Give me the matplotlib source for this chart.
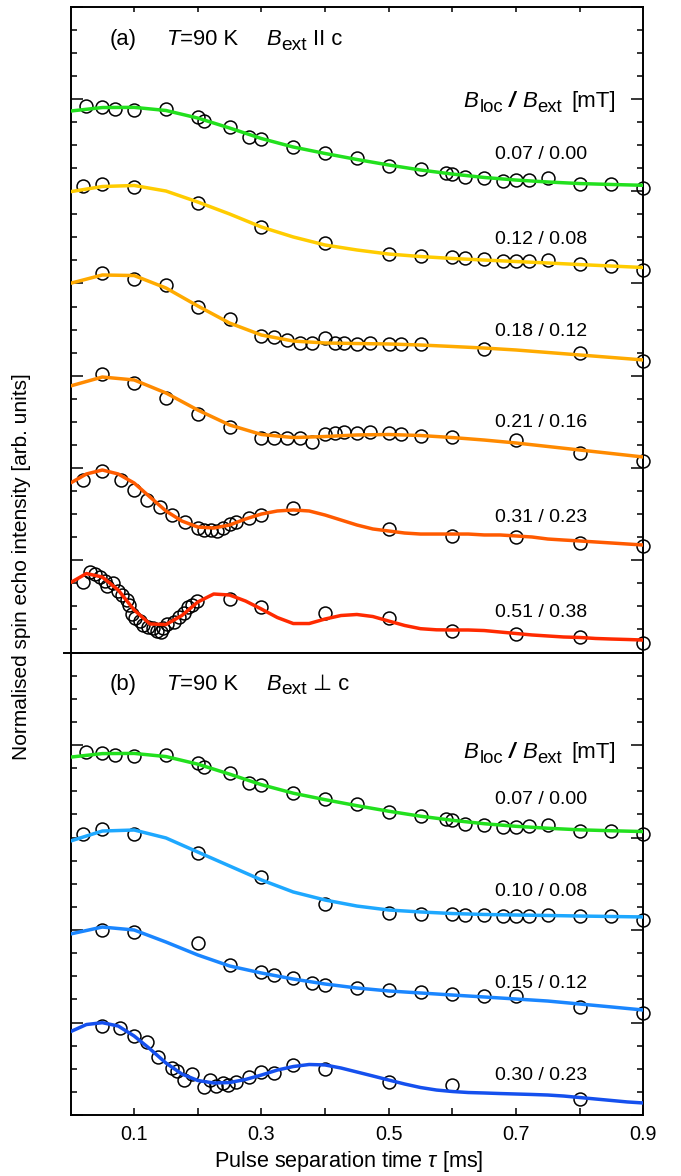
import numpy as np
import matplotlib
matplotlib.use("Agg")
import matplotlib.pyplot as plt
from matplotlib.lines import Line2D
from matplotlib.ticker import MultipleLocator, FixedLocator, NullFormatter

plt.rcParams['font.family'] = ['Liberation Sans', 'DejaVu Sans']
plt.rcParams['mathtext.fontset'] = 'custom'
plt.rcParams['mathtext.rm'] = 'Liberation Sans'
plt.rcParams['mathtext.it'] = 'Liberation Sans:italic'

# ---------------- data (vertically offset, arb. units) ----------------
fit_tau_c = np.round(np.arange(0, 0.9001, 0.05), 3)     # smooth fits
fit_tau_f = np.round(np.arange(0, 0.9001, 0.025), 3)    # oscillating fits

# (a) B_ext || c
tau_g = [0.025, 0.05, 0.07, 0.10, 0.15, 0.20, 0.21, 0.25, 0.28, 0.30, 0.35, 0.40, 0.45,
         0.50, 0.55, 0.59, 0.60, 0.62, 0.65, 0.68, 0.70, 0.72, 0.75, 0.80, 0.85, 0.90]
y_g = [5.924, 5.916, 5.891, 5.880, 5.888, 5.801, 5.764, 5.696, 5.591, 5.563, 5.482, 5.411, 5.357,
       5.273, 5.237, 5.201, 5.186, 5.151, 5.140, 5.111, 5.118, 5.121, 5.140, 5.075, 5.075, 5.038]
fit_g = [5.869, 5.907, 5.909, 5.875, 5.793, 5.685, 5.571, 5.479, 5.409, 5.344, 5.284, 5.230,
         5.186, 5.149, 5.121, 5.100, 5.083, 5.073, 5.064]
green_shift_b = -2.0   # same 0.07/0.00 data set shown again in panel (b)

tau_y = [0.02, 0.05, 0.10, 0.20, 0.30, 0.40, 0.50, 0.55, 0.60, 0.62, 0.65, 0.68, 0.70, 0.72,
         0.75, 0.80, 0.85, 0.90]
y_y = [5.056, 5.078, 5.042, 4.869, 4.609, 4.442, 4.319, 4.298, 4.287, 4.276, 4.265, 4.243,
       4.243, 4.243, 4.254, 4.211, 4.189, 4.146]
fit_y = [4.995, 5.051, 5.062, 5.002, 4.883, 4.753, 4.612, 4.504, 4.417, 4.363, 4.319, 4.292,
         4.271, 4.254, 4.238, 4.222, 4.205, 4.189, 4.173]

tau_yo = [0.05, 0.10, 0.15, 0.20, 0.25, 0.30, 0.32, 0.34, 0.36, 0.38, 0.40, 0.415, 0.43, 0.45,
          0.47, 0.50, 0.52, 0.55, 0.65, 0.80, 0.90]
y_yo = [4.110, 4.052, 3.980, 3.748, 3.612, 3.431, 3.423, 3.387, 3.358, 3.358, 3.406, 3.351,
        3.354, 3.344, 3.354, 3.344, 3.344, 3.344, 3.290, 3.246, 3.160]
fit_yo = [4.002, 4.092, 4.086, 3.951, 3.756, 3.571, 3.441, 3.376, 3.355, 3.349, 3.344, 3.333,
          3.317, 3.300, 3.279, 3.252, 3.225, 3.198, 3.171]

tau_o = [0.05, 0.10, 0.15, 0.20, 0.25, 0.30, 0.32, 0.34, 0.36, 0.38, 0.40, 0.415, 0.43, 0.45,
         0.47, 0.50, 0.52, 0.55, 0.60, 0.70, 0.80, 0.90]
y_o = [3.019, 2.918, 2.755, 2.582, 2.447, 2.322, 2.322, 2.322, 2.322, 2.285, 2.368, 2.376,
       2.390, 2.379, 2.390, 2.379, 2.368, 2.347, 2.336, 2.303, 2.162, 2.076]
fit_o = [2.889, 2.986, 2.954, 2.813, 2.628, 2.466, 2.363, 2.330, 2.341, 2.358, 2.363, 2.352,
         2.330, 2.303, 2.271, 2.233, 2.195, 2.157, 2.119]

tau_ro = [0.02, 0.05, 0.08, 0.10, 0.12, 0.14, 0.16, 0.18, 0.20, 0.21, 0.22, 0.23, 0.24, 0.25,
          0.26, 0.28, 0.30, 0.35, 0.50, 0.60, 0.70, 0.80, 0.90]
y_ro = [1.870, 1.967, 1.870, 1.761, 1.653, 1.577, 1.490, 1.414, 1.349, 1.328, 1.328, 1.317,
        1.349, 1.393, 1.414, 1.458, 1.490, 1.566, 1.339, 1.263, 1.252, 1.187, 1.154]
fit_ro = [1.837, 1.935, 1.978, 1.935, 1.837, 1.685, 1.534, 1.425, 1.360, 1.349, 1.382, 1.447,
          1.501, 1.534, 1.545, 1.534, 1.490, 1.436, 1.382, 1.339, 1.317, 1.295, 1.284, 1.284,
          1.284, 1.284, 1.274, 1.274, 1.263, 1.252, 1.230, 1.219, 1.209, 1.198, 1.187, 1.176, 1.165]

tau_r = [0.019, 0.030, 0.039, 0.047, 0.054, 0.058, 0.067, 0.074, 0.081, 0.088, 0.092, 0.096,
         0.101, 0.109, 0.114, 0.121, 0.130, 0.136, 0.142, 0.146, 0.152, 0.162, 0.171, 0.178,
         0.185, 0.191, 0.199, 0.250, 0.300, 0.400, 0.500, 0.600, 0.700, 0.800, 0.900]
y_r = [0.767, 0.876, 0.851, 0.822, 0.778, 0.724, 0.750, 0.670, 0.623, 0.569, 0.515, 0.414,
       0.371, 0.345, 0.298, 0.280, 0.262, 0.236, 0.225, 0.262, 0.309, 0.334, 0.388, 0.425,
       0.496, 0.515, 0.561, 0.577, 0.496, 0.431, 0.377, 0.236, 0.204, 0.165, 0.100]
fit_r = [0.757, 0.856, 0.818, 0.677, 0.461, 0.309, 0.303, 0.401, 0.547, 0.634, 0.623, 0.558,
         0.471, 0.379, 0.314, 0.314, 0.363, 0.401, 0.412, 0.390, 0.341, 0.293, 0.258, 0.246,
         0.244, 0.244, 0.238, 0.222, 0.206, 0.190, 0.179, 0.168, 0.163, 0.152, 0.146, 0.141, 0.135]

# (b) B_ext perpendicular to c
tau_lb = [0.02, 0.05, 0.10, 0.20, 0.30, 0.40, 0.50, 0.55, 0.60, 0.62, 0.65, 0.68, 0.70, 0.72,
          0.75, 0.80, 0.85, 0.90]
y_lb = [3.038, 3.092, 3.038, 2.832, 2.573, 2.281, 2.184, 2.173, 2.173, 2.162, 2.162, 2.151,
        2.151, 2.151, 2.162, 2.151, 2.151, 2.108]
fit_lb = [2.962, 3.070, 3.081, 2.995, 2.843, 2.692, 2.541, 2.411, 2.324, 2.259, 2.216, 2.195,
          2.178, 2.168, 2.162, 2.157, 2.151, 2.146, 2.141]

tau_mb = [0.05, 0.10, 0.20, 0.25, 0.30, 0.32, 0.35, 0.38, 0.40, 0.45, 0.50, 0.55, 0.60, 0.65,
          0.70, 0.80, 0.90]
y_mb = [2.000, 1.978, 1.859, 1.622, 1.546, 1.514, 1.481, 1.427, 1.405, 1.373, 1.351, 1.330,
        1.308, 1.286, 1.286, 1.168, 1.103]
fit_mb = [1.957, 2.032, 2.000, 1.870, 1.730, 1.611, 1.535, 1.470, 1.416, 1.373, 1.341, 1.319,
          1.297, 1.276, 1.254, 1.232, 1.200, 1.168, 1.135]

tau_db = [0.049, 0.078, 0.100, 0.120, 0.138, 0.159, 0.167, 0.179, 0.191, 0.209, 0.219, 0.228,
          0.239, 0.248, 0.260, 0.280, 0.300, 0.319, 0.350, 0.400, 0.500, 0.600, 0.800]
y_db = [0.962, 0.937, 0.857, 0.792, 0.630, 0.511, 0.479, 0.378, 0.443, 0.306, 0.378, 0.314,
        0.343, 0.321, 0.360, 0.408, 0.468, 0.457, 0.541, 0.494, 0.360, 0.324, 0.173]
fit_db = [0.901, 0.978, 0.998, 0.962, 0.854, 0.714, 0.562, 0.443, 0.373, 0.346, 0.351, 0.384,
          0.432, 0.486, 0.524, 0.546, 0.541, 0.508, 0.465, 0.422, 0.378, 0.335, 0.297, 0.270,
          0.254, 0.243, 0.238, 0.232, 0.227, 0.222, 0.216, 0.205, 0.189, 0.173, 0.157, 0.141, 0.130]

labels_a = ['0.07 / 0.00', '0.12 / 0.08', '0.18 / 0.12', '0.21 / 0.16', '0.31 / 0.23', '0.51 / 0.38']
labels_b = ['0.07 / 0.00', '0.10 / 0.08', '0.15 / 0.12', '0.30 / 0.23']
colors_a = ['#22e01e', '#ffcc00', '#ffab00', '#ff8a00', '#ff5a00', '#ff2a00']
colors_b = ['#22e01e', '#1ea8ff', '#1a86ff', '#1550ee']
xticks_lab = [0.1, 0.3, 0.5, 0.7, 0.9]

# ---------------- figure ----------------
W, H = 681, 1176
fig = plt.figure(figsize=(W / 100, H / 100), dpi=100)
L, R = 70.5, 643.3
ax1 = fig.add_axes([L / W, 1 - 652.5 / H, (R - L) / W, (652.5 - 6.7) / H])
ax2 = fig.add_axes([L / W, 1 - 1115 / H, (R - L) / W, (1115 - 652.5) / H])

mk = dict(marker='o', ms=9.3, mfc='none', mec='black', mew=1.1, ls='none', zorder=2)
lw = 2.5

series_a = [
    (tau_g, y_g, fit_tau_c, fit_g),
    (tau_y, y_y, fit_tau_c, fit_y),
    (tau_yo, y_yo, fit_tau_c, fit_yo),
    (tau_o, y_o, fit_tau_c, fit_o),
    (tau_ro, y_ro, fit_tau_f, fit_ro),
    (tau_r, y_r, fit_tau_f, fit_r),
]
for (tp, yp, tf, yf), c in zip(series_a, colors_a):
    ax1.plot(tp, yp, **mk, clip_on=False)
    ax1.plot(tf, yf, color=c, lw=lw, zorder=3, solid_capstyle='butt', solid_joinstyle='round')

series_b = [
    (tau_g, list(np.array(y_g) + green_shift_b), fit_tau_c, list(np.array(fit_g) + green_shift_b)),
    (tau_lb, y_lb, fit_tau_c, fit_lb),
    (tau_mb, y_mb, fit_tau_c, fit_mb),
    (tau_db, y_db, fit_tau_f, fit_db),
]
for (tp, yp, tf, yf), c in zip(series_b, colors_b):
    ax2.plot(tp, yp, **mk, clip_on=False)
    ax2.plot(tf, yf, color=c, lw=lw, zorder=3, solid_capstyle='butt', solid_joinstyle='round')

for ax, ntop in ((ax1, 7), (ax2, 5)):
    ax.set_xlim(0, 0.9)
    ax.set_ylim(0, ntop)
    ax.yaxis.set_major_locator(MultipleLocator(1))
    ax.yaxis.set_minor_locator(MultipleLocator(0.25))
    ax.yaxis.set_major_formatter(NullFormatter())
    ax.tick_params(axis='y', which='both', direction='in', left=True, right=True,
                   labelleft=False, width=1.1)
    ax.tick_params(axis='y', which='major', length=8.5)
    ax.tick_params(axis='y', which='minor', length=4.3)
    for s in ax.spines.values():
        s.set_linewidth(1.4)

ax1.xaxis.set_major_locator(FixedLocator([0.1, 0.2, 0.3, 0.4, 0.5, 0.6, 0.7, 0.8]))
ax1.tick_params(axis='x', which='both', direction='in', top=True, bottom=False,
                labelbottom=False, length=3.8, width=1.1)
ax1.xaxis.set_minor_locator(FixedLocator([]))

ax2.xaxis.set_major_locator(FixedLocator(xticks_lab))
ax2.xaxis.set_minor_locator(FixedLocator([0.2, 0.4, 0.6, 0.8]))
ax2.set_xticklabels([f'{v:.1f}' for v in xticks_lab])
ax2.tick_params(axis='x', which='both', direction='in', top=False, bottom=True,
                length=5, width=1.1, labelsize=14.3, pad=7)

# small outward stub of the panel boundary on the left
fig.add_artist(Line2D([64 / W, L / W], [1 - 652.5 / H] * 2, lw=1.4, color='black'))


def ftxt(x, y, s, **kw):
    kw.setdefault('fontsize', 14)
    fig.text(x / W, 1 - y / H, s, **kw)


# panel headers (pieces placed at measured pixel positions)
for yb_, sym in ((45, 'II c'), (690, '\u22a5 c')):
    ftxt(110, yb_, '(a)' if yb_ < 100 else '(b)', va='baseline', fontsize=15.8)
    ftxt(166, yb_, 'T', va='baseline', fontsize=15.8, style='italic')
    ftxt(180, yb_, '=90 K', va='baseline', fontsize=15.8)
    ftxt(266.7, yb_, 'B', va='baseline', fontsize=15.8, style='italic')
    ftxt(281, yb_ + 4.5, 'ext', va='baseline', fontsize=13.8)
    ftxt(313, yb_, sym, va='baseline', fontsize=15.8)

# B_loc / B_ext [mT] legends
for yb_ in (107.3, 758.3):
    ftxt(463.3, yb_, 'B', va='baseline', fontsize=16, style='italic')
    ftxt(479.3, yb_ + 4.4, 'loc', va='baseline', fontsize=13.3)
    ftxt(508.5, yb_, '/', va='baseline', fontsize=16, weight='bold', style='italic')
    ftxt(522.7, yb_, 'B', va='baseline', fontsize=16, style='italic')
    ftxt(537.3, yb_ + 4.4, 'ext', va='baseline', fontsize=13.3)
    ftxt(571.7, yb_, '[mT]', va='baseline', fontsize=16)

ya = [154.3, 240, 332, 423, 517, 612.7]
for lab, yy in zip(labels_a, ya):
    ftxt(541, yy, lab, ha='center', va='center')
yb = [800, 891, 984, 1075]
for lab, yy in zip(labels_b, yb):
    ftxt(541, yy, lab, ha='center', va='center')

ftxt(22, 567, 'Normalised spin echo intensity [arb. units]', rotation=90,
     ha='center', va='center', fontsize=15)
ftxt(349, 1161, r'Pulse separation time $\tau$ [ms]', ha='center', va='center', fontsize=15.6)

fig.savefig('out.png', dpi=100)
